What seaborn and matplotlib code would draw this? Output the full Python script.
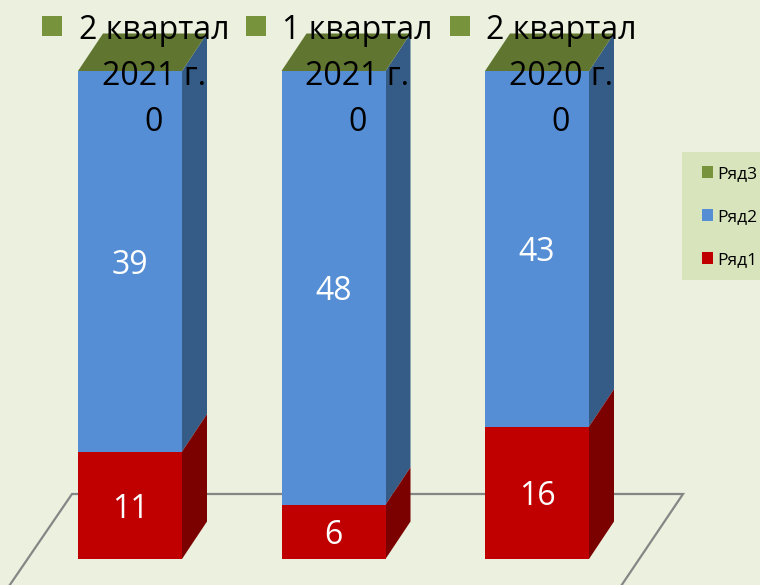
import matplotlib
matplotlib.use('Agg')
import matplotlib.pyplot as plt
from matplotlib.patches import Patch, Polygon, Rectangle
import pandas as pd
import seaborn as sns

quarters = ['2 квартал\n2021 г.', '1 квартал\n2021 г.', '2 квартал\n2020 г.']
row1 = [11, 6, 16]
row2 = [39, 48, 43]
row3 = [0, 0, 0]
series_names = ['Ряд1', 'Ряд2', 'Ряд3']

BG = '#EBF1DE'
FRONT = ['#C00000', '#558ED5', '#77933C']
SIDE = ['#7B0000', '#355B87', '#4E6128']
TOP = '#5F7530'

sns.set_theme(style='white')
plt.rcParams['font.family'] = ['Open Sans', 'DejaVu Sans']

df = pd.DataFrame({'quarter': quarters, 'Ряд1': row1, 'Ряд2': row2, 'Ряд3': row3})
# 100% stacked, every column has the same height on the picture
totals = df[series_names].sum(axis=1)
shares = df[series_names].div(totals, axis=0)

W, H = 760, 585
fig = plt.figure(figsize=(W / 100, H / 100), dpi=100, facecolor=BG)
ax = fig.add_axes([0, 0, 1, 1], facecolor=BG)

# one category = 203.5 px, 100% = 488 px, baseline at y=559 px
STEP, FULL = 203.5, 488


def px(x, y):
    return (x - 130) / STEP, (559 - y) / FULL


# floor
floor = [px(5, 592), px(72, 494), px(683, 494), px(617, 592)]
ax.plot(*zip(*floor), color='#868686', lw=1.6, zorder=1, solid_joinstyle='miter')

# bars
BAR_W = 104 / STEP
DX, DY = 25 / STEP, 37.5 / FULL
bottom = pd.Series(0.0, index=df.index)
for i, name in enumerate(series_names):
    sns.barplot(x=df['quarter'], y=shares[name], bottom=bottom, order=quarters, color=FRONT[i],
                saturation=1, width=BAR_W, ax=ax, zorder=4, linewidth=0)
    for j in df.index:
        right = j + BAR_W / 2
        y0, y1 = bottom[j], bottom[j] + shares[name][j]
        ax.add_patch(Polygon([(right, y0), (right + DX, y0 + DY), (right + DX, y1 + DY), (right, y1)],
                             facecolor=SIDE[i], edgecolor='none', zorder=3 + i * -0.1 + 0.2))
    bottom = bottom + shares[name]
ax.set_xlim(-130 / STEP, (W - 130) / STEP)
ax.set_ylim((559 - H) / FULL, 559 / FULL)

# top faces
for j in df.index:
    left, right = j - BAR_W / 2, j + BAR_W / 2
    ax.add_patch(Polygon([(left, 1), (left + DX, 1 + DY), (right + DX, 1 + DY), (right, 1)],
                         facecolor=TOP, edgecolor='none', zorder=5))

# value labels
bottom = pd.Series(0.0, index=df.index)
for name in series_names[:2]:
    for j in df.index:
        ax.text(j, bottom[j] + shares[name][j] / 2, str(df[name][j]), color='white', fontsize=23,
                ha='center', va='center_baseline', zorder=6)
    bottom = bottom + shares[name]

# labels on top: green square + quarter + Ряд3 value
for j in df.index:
    x0, y0 = px(52.5 + j * STEP, 25.5)
    ax.scatter([x0], [y0], marker='s', s=215, color=FRONT[2], linewidths=0, zorder=6)
    x1, y1 = px(154 + j * STEP, 76.5)
    ax.text(x1, y1, quarters[j] + '\n' + str(row3[j]), color='black', fontsize=23, ha='center', va='center',
            linespacing=1.53, zorder=7, clip_on=False)

ax.set_xlabel('')
ax.set_ylabel('')
ax.set_xticks([])
ax.set_yticks([])
sns.despine(ax=ax, left=True, bottom=True)

# legend panel is separate so its padding does not move the entries
fig.add_artist(Rectangle((682 / W, 1 - 280 / H), 78 / W, 128 / H, transform=fig.transFigure,
                         facecolor='#D8E4BC', edgecolor='none', zorder=7))
handles = [Patch(facecolor=FRONT[i], edgecolor='none', label=series_names[i]) for i in [2, 1, 0]]
leg = fig.legend(handles=handles, loc='upper left', bbox_to_anchor=(702 / W, 1 - 166 / H), borderaxespad=0,
                 fontsize=12.5, frameon=False, handlelength=0.63, handleheight=0.63, handletextpad=0.25,
                 labelspacing=1.56, borderpad=0, labelcolor='black')
leg.set_zorder(8)

fig.savefig('out.png', dpi=100, facecolor=BG)
